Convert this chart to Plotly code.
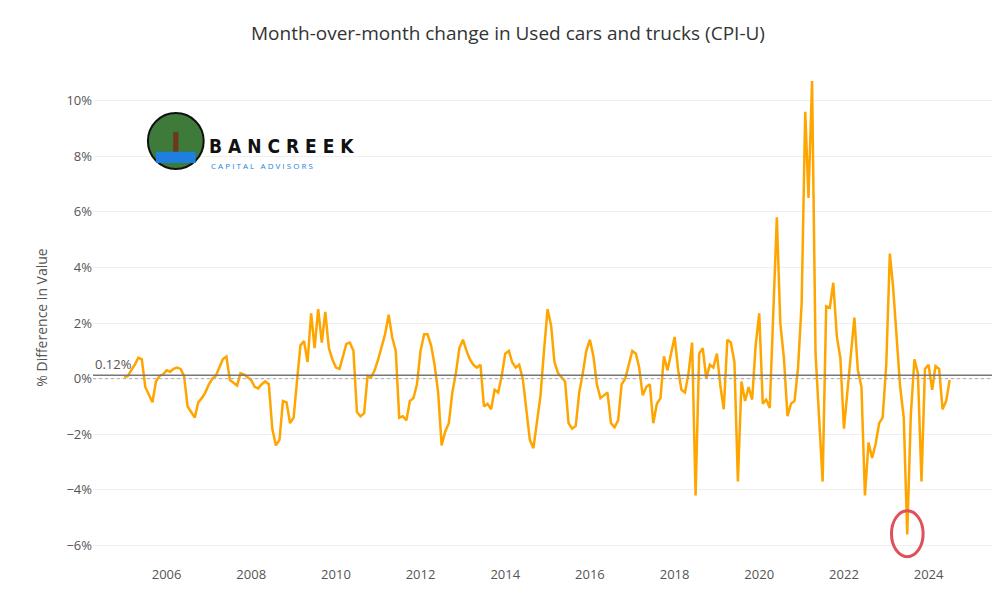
import plotly.graph_objects as go
import pandas as pd

# monthly % change, Jan 2005 - Jul 2024
mom_change = [
    0.05, 0.1, 0.3, 0.5, 0.75, 0.7, -0.3, -0.6, -0.85, -0.1, 0.1, 0.15,
    0.3, 0.25, 0.35, 0.4, 0.35, 0.1, -1.0, -1.2, -1.4, -0.85, -0.7, -0.5,
    -0.2, 0.0, 0.1, 0.4, 0.7, 0.8, -0.05, -0.15, -0.25, 0.2, 0.15, 0.05,
    -0.05, -0.3, -0.35, -0.2, -0.1, -0.2, -1.8, -2.4, -2.2, -0.8, -0.85, -1.6,
    -1.4, 0.0, 1.2, 1.35, 0.6, 2.35, 1.1, 2.5, 1.3, 2.4, 1.1, 0.7,
    0.4, 0.35, 0.8, 1.25, 1.3, 1.0, -1.2, -1.35, -1.25, 0.1, 0.05, 0.3,
    0.7, 1.2, 1.6, 2.3, 1.5, 1.0, -1.4, -1.35, -1.5, -0.8, -0.7, -0.2,
    1.0, 1.6, 1.6, 1.2, 0.5, -0.5, -2.4, -1.9, -1.6, -0.5, 0.2, 1.1,
    1.4, 1.0, 0.7, 0.5, 0.4, 0.5, -1.0, -0.9, -1.1, -0.4, -0.5, 0.1,
    0.9, 1.0, 0.6, 0.4, 0.5, 0.0, -1.2, -2.2, -2.5, -1.6, -0.6, 1.0,
    2.5, 1.9, 0.6, 0.2, 0.05, -0.1, -1.6, -1.8, -1.7, -0.5, 0.2, 1.0,
    1.4, 0.8, -0.2, -0.7, -0.6, -0.5, -1.6, -1.75, -1.5, -0.2, 0.0, 0.5,
    1.0, 0.9, 0.4, -0.6, -0.3, -0.2, -1.6, -0.9, -0.7, 0.8, 0.3, 0.9,
    1.5, 0.3, -0.4, -0.5, 0.2, 1.3, -4.2, 0.9, 1.1, 0.0, 0.5, 0.4,
    0.9, -0.3, -1.1, 1.4, 1.3, 0.6, -3.7, -0.1, -0.8, -0.3, -0.75, 1.2,
    2.35, -0.9, -0.75, -1.05, 2.7, 5.8, 2.0, 0.75, -1.35, -0.9, -0.8, 0.4,
    2.7, 9.6, 6.5, 10.7, 0.9, -1.5, -3.7, 2.6, 2.55, 3.45, 1.5, 0.75,
    -1.8, -0.4, 0.75, 2.2, 0.3, -0.3, -4.2, -2.3, -2.85, -2.35, -1.6, -1.4,
    0.5, 4.5, 3.3, 1.4, -0.3, -1.4, -5.6, -1.3, 0.7, 0.2, -3.7, 0.35,
    0.5, -0.4, 0.45, 0.35, -1.1, -0.8, -0.05,
]
dates = pd.date_range("2005-01-01", periods=len(mom_change), freq="MS")
avg_change = 0.12

fig = go.Figure()
fig.add_trace(go.Scatter(x=dates, y=mom_change, mode="lines",
                         line=dict(color="#FFA500", width=2.5), showlegend=False))

fig.add_hline(y=0, line=dict(color="#aaaaaa", width=1, dash="dot"))
fig.add_hline(y=avg_change, line=dict(color="#777777", width=1.5))
fig.add_annotation(x=0, xref="paper", y=avg_change, text="0.12%", showarrow=False,
                   xanchor="left", yanchor="bottom", font=dict(size=13, color="#555"))

# highlight the 2023 low
fig.add_shape(type="circle", x0="2023-02-15", x1="2023-11-15", y0=-6.4, y1=-4.75,
              line=dict(color="#E0505A", width=3))

# logo
fig.add_shape(type="circle", xref="paper", yref="paper", x0=0.061, x1=0.123, y0=0.80, y1=0.913,
              fillcolor="#3E7A3A", line=dict(color="#111", width=2))
fig.add_shape(type="rect", xref="paper", yref="paper", x0=0.070, x1=0.114, y0=0.812, y1=0.835,
              fillcolor="#1E7FE0", line=dict(width=0))
fig.add_shape(type="rect", xref="paper", yref="paper", x0=0.089, x1=0.095, y0=0.835, y1=0.875,
              fillcolor="#6B3A1E", line=dict(width=0))
fig.add_annotation(x=0.127, y=0.873, xref="paper", yref="paper", text="<b>B A N C R E E K</b>",
                   showarrow=False, xanchor="left",
                   font=dict(size=19, color="#111", family="DejaVu Sans Condensed"))
fig.add_annotation(x=0.129, y=0.823, xref="paper", yref="paper",
                   text="C A P I T A L   A D V I S O R S",
                   showarrow=False, xanchor="left", font=dict(size=8, color="#1E7FE0"))

fig.update_layout(
    width=1000, height=600,
    title=dict(text="Month-over-month change in Used cars and trucks (CPI-U)", x=0.5,
               y=0.958, yanchor="middle", font=dict(size=19, color="#333")),
    font=dict(family="Open Sans", color="#555"),
    plot_bgcolor="white", paper_bgcolor="white",
    margin=dict(l=85, r=15, t=62, b=43),
    xaxis=dict(range=["2004-04-06", "2025-07-10"], dtick="M24", tick0="2006-01-01",
               tickformat="%Y", showgrid=False, tickfont=dict(size=13)),
    yaxis=dict(title=dict(text="% Difference in Value", font=dict(size=14)), range=[-6.7, 11.1],
               dtick=2, ticksuffix="%", zeroline=False, gridcolor="#eeeeee", tickfont=dict(size=13)),
)
fig.write_html("out.html")
